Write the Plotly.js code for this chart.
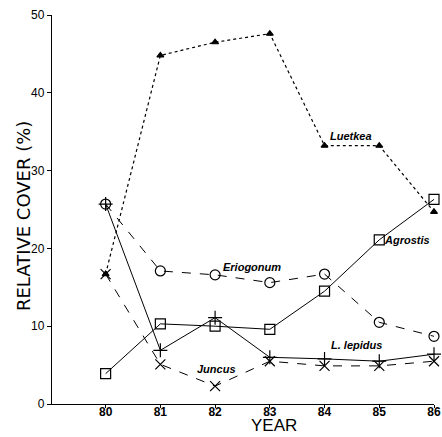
<!DOCTYPE html>
<html><head><meta charset="utf-8">
<script src="https://cdn.plot.ly/plotly-3.0.1.min.js"></script>
<style>html,body{margin:0;padding:0;background:#fff}</style>
</head><body><div id="chart" style="width:442px;height:437px"></div>
<script>
const years = [80, 81, 82, 83, 84, 85, 86];
const luetkea = [16.7, 44.8, 46.5, 47.6, 33.2, 33.2, 24.7];
const agrostis = [3.9, 10.3, 10.0, 9.6, 14.5, 21.1, 26.3];
const eriogonum = [25.7, 17.1, 16.6, 15.6, 16.7, 10.5, 8.7];
const lepidus = [25.7, 6.9, 11.1, 6.0, 5.8, 5.5, 6.4];
const juncus = [16.7, 5.1, 2.3, 5.5, 4.9, 4.9, 5.5];
const yTicks = [0, 10, 20, 30, 40, 50];
const labels = [
  {text: 'Luetkea', x: 84.49, y: 34.4},
  {text: 'Agrostis', x: 85.5, y: 21.1},
  {text: 'Eriogonum', x: 82.68, y: 17.6},
  {text: 'L. lepidus', x: 84.58, y: 7.6},
  {text: 'Juncus', x: 82.03, y: 4.5}
];

function tr(y, dash, symbol, size, w) {
  return {x: years, y: y, mode: 'lines+markers', type: 'scatter',
    line: {color: '#000', width: w, dash: dash},
    marker: {symbol: symbol, size: size, color: '#000', line: {color: '#000', width: 1.2}},
    showlegend: false, hoverinfo: 'none', cliponaxis: false};
}
const data = [
  tr(luetkea, 'dot', 'triangle-up', 6, 1.2),
  tr(agrostis, 'solid', 'square-open', 10, 1),
  tr(eriogonum, 'dash', 'circle-open', 10, 1),
  tr(lepidus, 'solid', 'cross-thin-open', 10, 1),
  tr(juncus, 'dash', 'x-thin-open', 10, 1)
];
const F = 'Liberation Sans, Arial, sans-serif';
const ann = labels.map(l => ({x: l.x, y: l.y, xref: 'x', yref: 'y', text: '<b><i>' + l.text + '</i></b>',
  showarrow: false, font: {family: F, size: 11, color: '#000'}}));
ann.push({x: -0.076, y: 0.483, xref: 'paper', yref: 'paper', xanchor: 'center', yanchor: 'middle',
  text: 'RELATIVE COVER (%)', textangle: -90,
  showarrow: false, font: {family: 'DejaVu Sans, sans-serif', size: 18, color: '#000'}});
ann.push({x: 0.58, y: -0.0848, xref: 'paper', yref: 'paper', text: 'YEAR', xanchor: 'center', yanchor: 'bottom',
  showarrow: false, font: {family: F, size: 17, color: '#000'}});

const layout = {
  width: 442, height: 437,
  margin: {l: 52, r: 8, t: 15, b: 33},
  paper_bgcolor: '#fff', plot_bgcolor: '#fff',
  font: {family: F, color: '#000'},
  xaxis: {range: [79.02, 86.0], tickvals: years, ticktext: years.map(v => '<b>' + v + '</b>'), showgrid: false, zeroline: false,
    showline: true, linecolor: '#000', linewidth: 1.2, ticks: 'outside', ticklen: 3, tickcolor: '#000',
    ticklabelstandoff: -7, ticklabeloverflow: 'allow',
    tickfont: {size: 12, family: F}},
  yaxis: {range: [0, 50], tickvals: yTicks, showgrid: false, zeroline: false,
    showline: true, linecolor: '#000', linewidth: 1.2, ticks: 'outside', ticklen: 4, tickcolor: '#000',
    tickfont: {size: 12, family: F}},
  annotations: ann
};
Plotly.newPlot('chart', data, layout, {staticPlot: true});
</script></body></html>
